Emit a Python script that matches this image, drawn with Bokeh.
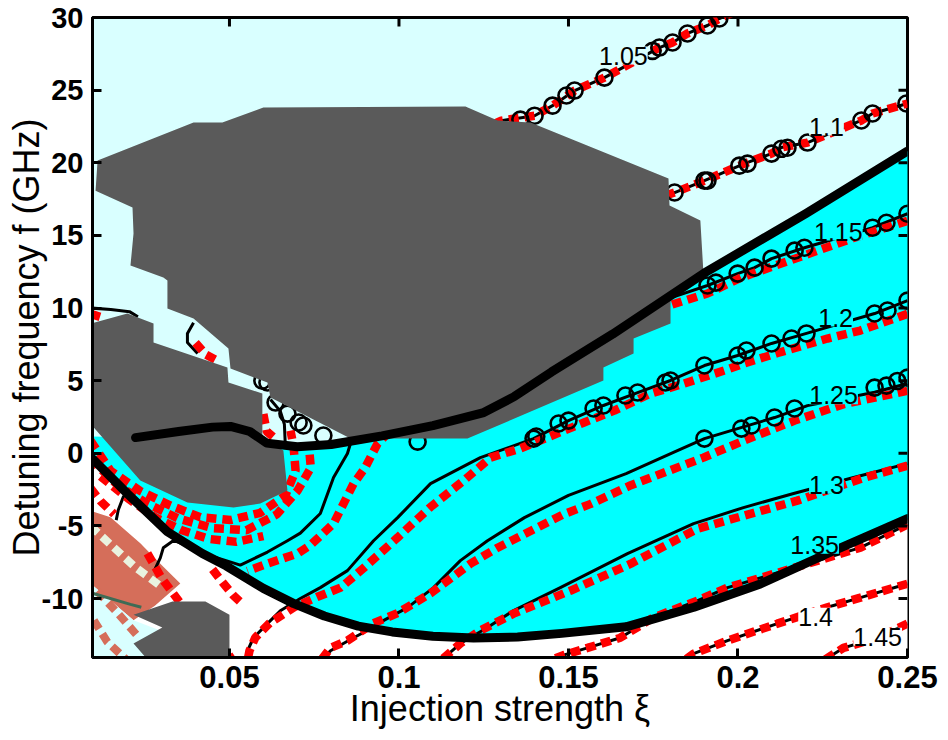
import math
from bokeh.plotting import figure
from bokeh.models import Range1d, FixedTicker, Label, NumeralTickFormatter
from bokeh.embed import file_html
from bokeh.resources import INLINE

# ---------------- axes ----------------
X_MIN, X_MAX = 0.0096, 0.25
Y_MIN, Y_MAX = -14.06, 30.0
x_ticks = [0.05, 0.1, 0.15, 0.2, 0.25]
y_ticks = [-10, -5, 0, 5, 10, 15, 20, 25, 30]
x_title = "Injection strength ξ"
y_title = "Detuning frequency f (GHz)"

# ---------------- colours ----------------
LIGHT_CYAN = "#d9ffff"
CYAN = "#00ffff"
GRAY = "#5a5a5a"
RED = "#ff0000"
SALMON = "#d56e5a"

# ---------------- thick boundaries ----------------
upper_x = [0.0223, 0.0350, 0.0450, 0.0503, 0.0560, 0.0610, 0.0700, 0.0800, 0.0950, 0.1100,
           0.1250, 0.1340, 0.1450, 0.1630, 0.1900, 0.2200, 0.2500]
upper_y = [1.08, 1.50, 1.80, 1.85, 1.50, 0.70, 0.45, 0.60, 1.20, 1.90,
           2.80, 3.90, 5.60, 8.20, 12.40, 16.50, 20.80]
lower_x = [0.0097, 0.0200, 0.0317, 0.0420, 0.0490, 0.0600, 0.0690, 0.0780, 0.0880, 0.0980,
           0.1100, 0.1220, 0.1350, 0.1480, 0.1670, 0.1870, 0.2066, 0.2264, 0.2500]
lower_y = [-0.40, -2.80, -5.40, -6.90, -7.75, -9.30, -10.35, -11.20, -11.90, -12.30,
           -12.60, -12.72, -12.65, -12.40, -11.95, -10.60, -9.00, -6.90, -4.50]

# ---------------- gray (unresolved) regions ----------------
gray_big_x = [0.0111, 0.0394, 0.0479, 0.0600, 0.1196, 0.1291, 0.1388, 0.1795, 0.1798, 0.1889,
              0.1898, 0.1801, 0.1801, 0.1692, 0.1692, 0.1603, 0.1603, 0.1202, 0.0857, 0.0621,
              0.0612, 0.0503, 0.0497, 0.0394, 0.0317, 0.0317, 0.0305, 0.0208, 0.0217, 0.0214, 0.0105]
gray_big_y = [20.15, 22.77, 22.77, 23.80, 23.87, 22.91, 22.77, 18.91, 17.05, 16.02,
              12.44, 10.86, 8.93, 7.90, 6.87, 5.91, 5.01, 1.01, 1.01, 3.84,
              4.87, 5.83, 7.21, 9.27, 9.96, 11.90, 12.10, 12.92, 15.13, 16.92, 18.08]
gray_left_x = [0.0090, 0.0199, 0.0276, 0.0276, 0.0494, 0.0497, 0.0597, 0.0597, 0.0659, 0.0671,
               0.0591, 0.0512, 0.0376, 0.0237, 0.0090]
gray_left_y = [8.93, 9.62, 8.93, 7.62, 5.91, 4.87, 4.11, 1.08, 0.19, -2.57,
               -3.46, -3.74, -3.39, -1.88, 2.04]
gray_small_x = [0.0217, 0.0332, 0.0429, 0.0500, 0.0500, 0.0288, 0.0217, 0.0302]
gray_small_y = [-11.11, -10.21, -10.21, -11.11, -15.0, -15.0, -13.10, -12.00]

# ---------------- bottom-left corner patches ----------------
salmon_x = [0.0090, 0.0149, 0.0237, 0.0296, 0.0355, 0.0280, 0.0217, 0.0090]
salmon_y = [-3.95, -4.40, -6.20, -7.60, -8.97, -10.50, -11.50, -8.97]
corner_x = [0.0090, 0.0217, 0.0296, 0.0288, 0.0090]
corner_y = [-8.97, -11.50, -12.20, -15.0, -15.0]
green_x = [0.0090, 0.0208, 0.0240]
green_y = [-9.6, -10.4, -10.6]
sd1_x = [0.0090, 0.0150, 0.0220, 0.0300]
sd1_y = [-5.0, -6.3, -7.8, -9.2]
sd2_x = [0.0110, 0.0170, 0.0230]
sd2_y = [-9.5, -11.0, -12.6]
sd3_x = [0.0100, 0.0140, 0.0200]
sd3_y = [-11.5, -13.0, -14.3]

# ---------------- contours (black, thin) ----------------
c105_x = [0.1150, 0.1302, 0.1400, 0.1453, 0.1518, 0.1606, 0.1768, 0.1807, 0.1851, 0.1910, 0.1945, 0.1990]
c105_y = [21.30, 22.90, 23.24, 23.93, 24.97, 25.86, 27.93, 28.28, 28.90, 29.45, 29.93, 30.40]
c110_x = [0.1650, 0.1813, 0.1901, 0.2019, 0.2099, 0.2128, 0.2205, 0.2364, 0.2397, 0.2500]
c110_y = [16.70, 17.95, 18.77, 19.94, 20.63, 21.05, 21.39, 22.91, 23.39, 24.08]
c115_x = [0.2500, 0.2397, 0.2196, 0.2099, 0.2049, 0.1999, 0.1910, 0.1801, 0.1650, 0.1400,
          0.1100, 0.0900, 0.0857, 0.0848, 0.0807, 0.0768, 0.0709, 0.0671, 0.0612, 0.0532,
          0.0450, 0.0380, 0.0335, 0.0305, 0.0296, 0.0280]
c115_y = [16.49, 15.53, 14.15, 13.40, 12.78, 12.37, 11.55, 10.70, 9.50, 7.00,
          4.00, 2.00, 0.67, -0.02, -1.67, -4.15, -5.50, -6.02, -6.80, -7.70,
          -7.10, -6.40, -6.00, -6.50, -7.20, -8.00]
c120_x = [0.2500, 0.2403, 0.2202, 0.2099, 0.1999, 0.1901, 0.1801, 0.1704, 0.1603, 0.1500,
          0.1397, 0.1240, 0.1093, 0.0996, 0.0925, 0.0848, 0.0768, 0.0709, 0.0650, 0.0612,
          0.0571, 0.0553, 0.0547]
c120_y = [10.51, 9.62, 8.25, 7.56, 6.73, 6.04, 5.01, 4.18, 3.29, 2.25,
          1.01, -0.30, -2.09, -4.43, -6.02, -8.08, -9.25, -10.00, -10.84, -11.73,
          -12.70, -13.60, -14.30]
c125_x = [0.2500, 0.2403, 0.2205, 0.2108, 0.1999, 0.1901, 0.1813, 0.1670, 0.1500, 0.1370,
          0.1261, 0.1181, 0.1102, 0.1025, 0.0954, 0.0907, 0.0866, 0.0798, 0.0768]
c125_y = [4.80, 4.20, 3.28, 2.46, 1.70, 1.01, 0.10, -1.40, -2.90, -4.43,
          -6.02, -7.39, -9.25, -10.63, -11.52, -12.20, -12.70, -13.60, -14.30]
c130_x = [0.2500, 0.2341, 0.2164, 0.2016, 0.1869, 0.1674, 0.1476, 0.1338, 0.1261, 0.1181, 0.1122]
c130_y = [-0.71, -1.67, -2.77, -3.74, -4.84, -6.91, -9.25, -10.83, -12.00, -13.10, -14.30]
c135_x = [0.2500, 0.2361, 0.2164, 0.1969, 0.1881, 0.1751, 0.1653, 0.1556, 0.1485, 0.1440]
c135_y = [-4.90, -6.50, -7.90, -9.25, -10.14, -11.30, -12.70, -13.40, -13.90, -14.30]
c140_x = [0.2500, 0.2361, 0.2264, 0.2116, 0.1969, 0.1869, 0.1840]
c140_y = [-8.98, -9.94, -10.60, -11.73, -12.90, -13.80, -14.30]
c145_x = [0.2500, 0.2412, 0.2311, 0.2250]
c145_y = [-11.73, -12.70, -13.40, -14.30]
# small contour fragments near the unresolved regions
s1_x = [0.0090, 0.0150, 0.0205, 0.0230]
s1_y = [10.0, 9.9, 9.75, 9.4]
s2_x = [0.0394, 0.0376, 0.0376, 0.0406]
s2_y = [8.99, 8.24, 7.62, 6.87]
s3_x = [0.0621, 0.0650, 0.0662, 0.0665]
s3_y = [3.70, 2.90, 2.00, 0.40]
s4_x = [0.0200, 0.0187, 0.0172, 0.0166]
s4_y = [-2.7, -3.0, -3.9, -4.6]

# ---------------- red dashed (second model) ----------------
r115_x = [0.2500, 0.2338, 0.2205, 0.2010, 0.1910, 0.1800, 0.1600, 0.1300, 0.1050, 0.0960,
          0.0937, 0.0900, 0.0866, 0.0807, 0.0740, 0.0701, 0.0612, 0.0553]
r115_y = [16.0, 14.8, 13.7, 12.1, 11.0, 10.2, 8.5, 5.0, 2.5, 1.2,
          0.67, -1.0, -2.09, -4.84, -6.3, -6.9, -7.6, -8.1]
r120_x = [0.2500, 0.2361, 0.2264, 0.2117, 0.2020, 0.1960, 0.1841, 0.1741, 0.1635, 0.1546,
          0.1437, 0.1357, 0.1270, 0.1190, 0.1093, 0.0996, 0.0896, 0.0828, 0.0758, 0.0691,
          0.0618, 0.0576, 0.0559, 0.0553]
r120_y = [9.60, 8.45, 7.90, 6.90, 6.20, 5.70, 4.80, 4.10, 2.94, 2.12,
          1.08, 0.32, -0.30, -1.90, -3.70, -5.80, -7.90, -9.25, -9.90, -10.60,
          -11.70, -12.70, -13.60, -14.30]
r125_x = [0.2500, 0.2314, 0.2167, 0.2020, 0.1898, 0.1684, 0.1564, 0.1485, 0.1388, 0.1291,
          0.1211, 0.1093, 0.0996, 0.0925, 0.0848, 0.0798, 0.0768]
r125_y = [4.30, 3.40, 2.25, 0.90, -0.30, -2.20, -3.50, -4.20, -5.35, -6.50,
          -7.60, -9.65, -11.00, -11.70, -12.90, -13.40, -14.30]
r130_x = [0.2500, 0.2373, 0.2175, 0.1880, 0.1684, 0.1507, 0.1338, 0.1240, 0.1181, 0.1122]
r130_y = [-0.85, -1.67, -3.26, -5.20, -7.60, -9.45, -11.04, -12.20, -13.10, -14.30]
rb1_x = [0.0090, 0.0149, 0.0237, 0.0326, 0.0414, 0.0503, 0.0591, 0.0665, 0.0695, 0.0689, 0.0680]
rb1_y = [0.88, -1.20, -2.60, -3.60, -4.40, -4.60, -4.10, -2.90, -1.20, 0.50, 1.56]
rb2_x = [0.0120, 0.0200, 0.0280, 0.0360, 0.0440, 0.0520, 0.0600]
rb2_y = [-1.60, -3.10, -4.40, -5.30, -5.90, -6.10, -5.70]
rb3_x = [0.0090, 0.0170, 0.0260, 0.0350, 0.0450, 0.0550, 0.0640, 0.0700, 0.0740, 0.0735]
rb3_y = [-0.40, -2.20, -3.50, -4.50, -5.15, -5.30, -4.20, -2.60, -1.00, 0.30]
rw1_x = [0.0090, 0.0120, 0.0160]
rw1_y = [-2.4, -3.3, -4.2]
rw2_x = [0.0258, 0.0300, 0.0355]
rw2_y = [-6.9, -8.6, -10.3]
rw3_x = [0.0450, 0.0480, 0.0512, 0.0540]
rw3_y = [-8.0, -8.9, -9.8, -10.4]
rw4_x = [0.0470, 0.0490, 0.0510]
rw4_y = [-13.0, -13.6, -14.3]
rs1_x = [0.0400, 0.0430, 0.0470]
rs1_y = [7.6, 6.8, 6.3]
rs2_x = [0.0600, 0.0610, 0.0640]
rs2_y = [2.7, 1.5, 0.9]
rs3_x = [0.0090, 0.0130]
rs3_y = [9.6, 9.3]

# ---------------- circles (third model) ----------------
o105_x = [0.1945, 0.1910, 0.1851, 0.1807, 0.1768, 0.1748, 0.1606, 0.1518, 0.1494, 0.1453, 0.1400, 0.1358]
o105_y = [29.93, 29.45, 28.90, 28.28, 27.93, 27.70, 25.86, 24.97, 24.63, 23.93, 23.24, 22.97]
o110_x = [0.2497, 0.2397, 0.2364, 0.2205, 0.2146, 0.2128, 0.2099, 0.2028, 0.2004, 0.1910, 0.1901, 0.1813]
o110_y = [24.08, 23.39, 22.91, 21.39, 21.03, 20.96, 20.63, 19.94, 19.80, 18.77, 18.77, 17.95]
o115_x = [0.2500, 0.2438, 0.2397, 0.2196, 0.2167, 0.2099, 0.2049, 0.1999, 0.1935, 0.1910]
o115_y = [16.49, 15.87, 15.53, 14.15, 13.95, 13.40, 12.78, 12.37, 11.75, 11.55]
o120_x = [0.2500, 0.2441, 0.2403, 0.2202, 0.2158, 0.2099, 0.2025, 0.1999, 0.1901, 0.1801,
          0.1786, 0.1704, 0.1668, 0.1603, 0.1574, 0.1500, 0.1471, 0.1405, 0.1397, 0.1055]
o120_y = [10.51, 9.83, 9.62, 8.25, 7.90, 7.56, 7.07, 6.73, 6.04, 5.01,
          4.87, 4.18, 3.98, 3.29, 3.08, 2.25, 2.05, 1.15, 1.01, 0.80]
o125_x = [0.2500, 0.2470, 0.2438, 0.2403, 0.2167, 0.2108, 0.2040, 0.2010, 0.1901]
o125_y = [5.21, 4.98, 4.66, 4.52, 3.08, 2.46, 1.91, 1.70, 1.01]
ostrip_x = [0.0597, 0.0612, 0.0636, 0.0671, 0.0704, 0.0718, 0.0777]
ostrip_y = [5.00, 4.87, 3.49, 2.73, 2.12, 1.91, 1.22]

# ---------------- contour labels ----------------
lab_text = ["1.05", "1.1", "1.15", "1.2", "1.25", "1.3", "1.35", "1.4", "1.45"]
lab_x = [0.1662, 0.2261, 0.2296, 0.2288, 0.2282, 0.2261, 0.2226, 0.2229, 0.2412]
lab_y = [27.38, 22.49, 15.26, 9.34, 4.00, -2.16, -6.29, -11.25, -12.63]
lab_bg = [LIGHT_CYAN, LIGHT_CYAN, CYAN, CYAN, CYAN, CYAN, CYAN, "white", "white"]

# =====================================================================
p = figure(width=948, height=740, output_backend="svg", toolbar_location=None,
           x_range=Range1d(X_MIN, X_MAX), y_range=Range1d(Y_MIN, Y_MAX),
           min_border_left=92, min_border_right=41, min_border_top=17, min_border_bottom=83)
p.background_fill_color = LIGHT_CYAN
p.border_fill_color = "white"
p.grid.visible = False
p.outline_line_color = "black"
p.outline_line_width = 3

FONT = "Liberation Sans"
for ax in (p.xaxis[0], p.yaxis[0]):
    ax.axis_line_width = 3
    ax.major_tick_line_width = 3
    ax.major_tick_in = 9
    ax.major_tick_out = 0
    ax.minor_tick_line_color = None
    ax.major_label_text_font = FONT
    ax.major_label_text_font_style = "bold"
    ax.major_label_text_color = "black"
    ax.axis_label_text_font = FONT
    ax.axis_label_text_font_style = "normal"
    ax.axis_label_text_color = "black"
p.xaxis.ticker = FixedTicker(ticks=x_ticks)
p.yaxis.ticker = FixedTicker(ticks=y_ticks)
p.xaxis.formatter = NumeralTickFormatter(format="0.[00]")
p.yaxis.formatter = NumeralTickFormatter(format="0")
p.xaxis.major_label_text_font_size = "31px"
p.yaxis.major_label_text_font_size = "29px"
p.xaxis.major_label_standoff = 8
p.yaxis.major_label_standoff = 9
p.xaxis.axis_label = x_title
p.yaxis.axis_label = y_title
p.xaxis.axis_label_text_font_size = "36px"
p.yaxis.axis_label_text_font_size = "36px"
p.xaxis.axis_label_standoff = -3
p.yaxis.axis_label_standoff = -8

# ---- filled regions ----
white_x = lower_x + [X_MAX + 0.01, X_MIN - 0.01, X_MIN - 0.01]
white_y = lower_y + [Y_MIN - 1, Y_MIN - 1, lower_y[0]]
p.patch(white_x, white_y, fill_color="white", line_color=None)
cyan_x = [X_MIN - 0.01] + upper_x + [X_MAX + 0.01, X_MAX + 0.01] + lower_x[::-1]
cyan_y = [1.2] + upper_y + [upper_y[-1], lower_y[-1]] + lower_y[::-1]
p.patch(cyan_x, cyan_y, fill_color=CYAN, line_color=None)
p.patch(salmon_x, salmon_y, fill_color=SALMON, line_color=None)
p.patch(corner_x, corner_y, fill_color=LIGHT_CYAN, line_color=None)

DASH = "10 6"
for sx, sy, col in [(sd1_x, sd1_y, "#e9f3df"), (sd2_x, sd2_y, SALMON), (sd3_x, sd3_y, SALMON)]:
    p.line(sx, sy, line_color=col, line_width=8, line_dash=DASH)
p.line(green_x, green_y, line_color="#3f6b55", line_width=3)

# ---- black contour lines ----
contours = [(c105_x, c105_y), (c110_x, c110_y), (c115_x, c115_y), (c120_x, c120_y),
            (c125_x, c125_y), (c130_x, c130_y), (c135_x, c135_y), (c140_x, c140_y),
            (c145_x, c145_y), (s1_x, s1_y), (s2_x, s2_y), (s3_x, s3_y), (s4_x, s4_y)]
for cx, cy in contours:
    p.line(cx, cy, line_color="black", line_width=3, line_join="round")

# ---- red dashed lines ----
reds = [(c105_x, c105_y), (c110_x, c110_y), (r115_x, r115_y), (r120_x, r120_y),
        (r125_x, r125_y), (r130_x, r130_y), (c135_x, c135_y), (c140_x, c140_y),
        (c145_x, c145_y), (rb1_x, rb1_y), (rb2_x, rb2_y), (rb3_x, rb3_y), (rw1_x, rw1_y),
        (rw2_x, rw2_y), (rw3_x, rw3_y), (rw4_x, rw4_y), (rs1_x, rs1_y), (rs2_x, rs2_y),
        (rs3_x, rs3_y)]
for rx, ry in reds:
    p.line(rx, ry, line_color=RED, line_width=8.5, line_dash=DASH)

# ---- circles ----
for ox, oy in [(o105_x, o105_y), (o110_x, o110_y), (o115_x, o115_y), (o120_x, o120_y),
               (o125_x, o125_y), (ostrip_x, ostrip_y)]:
    p.scatter(ox, oy, marker="circle", size=16, fill_color=None, line_color="black", line_width=2.6)

# ---- gray regions ----
for gx, gy in [(gray_big_x, gray_big_y), (gray_left_x, gray_left_y), (gray_small_x, gray_small_y)]:
    p.patch(gx, gy, fill_color=GRAY, line_color=None)

# ---- thick boundaries ----
p.line(upper_x, upper_y, line_color="black", line_width=9, line_cap="round", line_join="round")
p.line(lower_x, lower_y, line_color="black", line_width=9, line_cap="round", line_join="round")

# ---- mirrored tick marks on top and right edges ----
p.ray(x=x_ticks, y=[Y_MAX] * len(x_ticks), length=9, length_units="screen",
      angle=-math.pi / 2, line_color="black", line_width=3)
p.ray(x=[X_MAX] * len(y_ticks), y=y_ticks, length=9, length_units="screen",
      angle=math.pi, line_color="black", line_width=3)

# ---- contour labels ----
for t, lx, ly, bg in zip(lab_text, lab_x, lab_y, lab_bg):
    p.add_layout(Label(x=lx, y=ly, text=t, text_font=FONT, text_font_size="25px",
                       text_align="center", text_baseline="middle", text_color="black",
                       background_fill_color=bg))

open("out.html", "w").write(file_html(p, INLINE))
